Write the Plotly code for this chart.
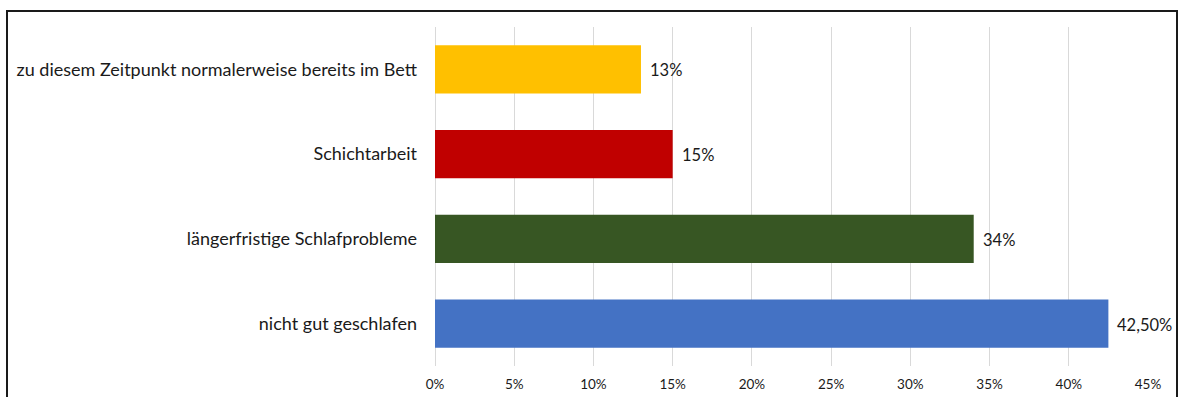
import plotly.graph_objects as go

# Survey reasons, listed top to bottom
categories = [
    "zu diesem Zeitpunkt normalerweise bereits im Bett",
    "Schichtarbeit",
    "längerfristige Schlafprobleme",
    "nicht gut geschlafen",
]
values = [13, 15, 34, 42.5]
bar_colors = ["#FFC000", "#C00000", "#375623", "#4472C4"]
x_ticks = [0, 5, 10, 15, 20, 25, 30, 35, 40, 45]
x_tick_labels = [f"{t}%" for t in x_ticks]


def fmt(v):
    if float(v).is_integer():
        return f"{int(v)}%"
    return f"{v:.2f}".replace(".", ",") + "%"


labels = [fmt(v) for v in values]

W, H = 1179, 397
L, R, T, B = 435, 31, 27, 31
plot_w = W - L - R
plot_h = H - T - B

fig = go.Figure()
fig.add_trace(go.Bar(
    x=values,
    y=categories,
    orientation="h",
    marker=dict(color=bar_colors, line=dict(width=0)),
    width=0.57,
    hoverinfo="skip",
))

for cat, v, lab in zip(categories, values, labels):
    fig.add_annotation(
        x=v, y=cat, text=lab, showarrow=False,
        xanchor="left", yanchor="middle", xshift=7, yshift=-1,
        font=dict(family="Lato, sans-serif", size=16.5, color="#1a1a1a"),
    )


def px_to_paper_x(px):
    return (px - L) / plot_w


def px_to_paper_y(py):
    return (H - B - py) / plot_h


# outer frame around the chart
fig.add_shape(
    type="rect", xref="paper", yref="paper",
    x0=px_to_paper_x(7), x1=px_to_paper_x(1177),
    y0=px_to_paper_y(420), y1=px_to_paper_y(11),
    line=dict(color="#1a1a1a", width=2), fillcolor="rgba(0,0,0,0)",
    layer="above",
)

fig.update_layout(
    width=W, height=H,
    margin=dict(l=L, r=R, t=T, b=B, autoexpand=False),
    paper_bgcolor="white", plot_bgcolor="white",
    showlegend=False,
    bargap=0.43,
    font=dict(family="Lato, sans-serif", color="#1a1a1a"),
    xaxis=dict(
        range=[0, 45], tickvals=x_ticks, ticktext=x_tick_labels,
        showgrid=True, gridcolor="#d9d9d9", gridwidth=1,
        zeroline=True, zerolinecolor="#d9d9d9", zerolinewidth=1,
        showline=False, ticks="", ticklabelstandoff=8,
        tickfont=dict(size=13.5, color="#1a1a1a"),
        fixedrange=True,
    ),
    yaxis=dict(
        autorange="reversed", showgrid=False, zeroline=False,
        showline=False, ticks="", ticklabelstandoff=17,
        tickfont=dict(size=18, color="#1a1a1a"),
        fixedrange=True,
    ),
)

fig.write_html("out.html")
